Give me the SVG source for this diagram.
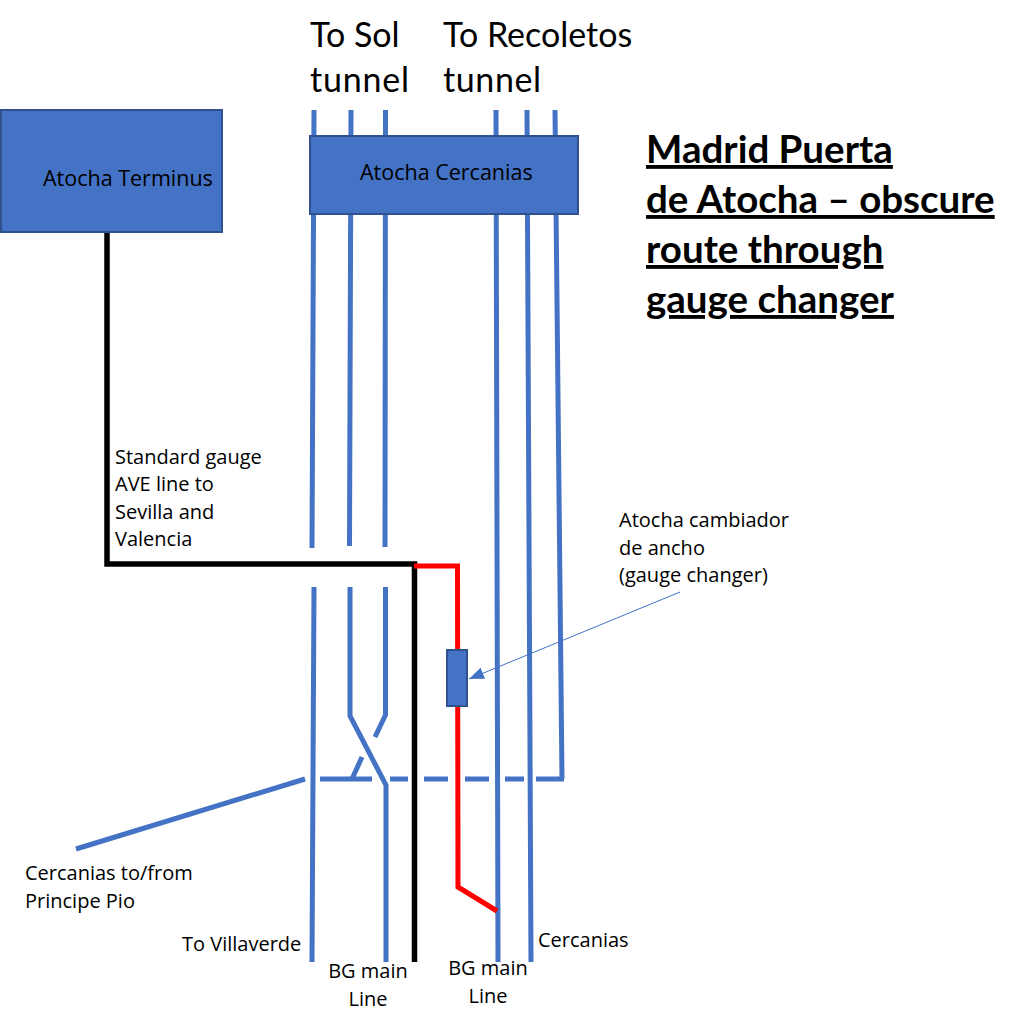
<svg xmlns="http://www.w3.org/2000/svg" width="1021" height="1026" viewBox="0 0 1021 1026">
<style>
.b{fill:none;stroke:#4472c4;stroke-width:5}
.k{fill:none;stroke:#000;stroke-width:5.500}
.r{fill:none;stroke:#f00;stroke-width:5}
.box{fill:#4472c4;stroke:#2f528f;stroke-width:2}
text{fill:#000;font-family:"Open Sans","Noto Sans",sans-serif}
.s{font-size:21.500px}
.m{font-size:20px}
.big{font-family:Lato,"Open Sans",sans-serif;font-size:34px}
.h{font-family:Lato,"Open Sans",sans-serif;font-size:38.500px;font-weight:700;text-decoration:underline}
</style>
<defs><marker id="ah" markerWidth="16" markerHeight="12" refX="15" refY="6" orient="auto" markerUnits="userSpaceOnUse"><path d="M0 0L15 6L0 12z" fill="#4472c4"/></marker></defs>
<rect width="1021" height="1026" fill="#fff"/>
<g id="connectors">
<path class="b" d="M314 110L312 548M351 110L349.500 546M385.500 110L385 547M496 110L498 962M527 110L531 962M555 110L562 779"/>
<path class="b" d="M314 587L312 962M350 587V716L386 785V962M385.500 587V715L375 737M362 757L352 779M305 779L76 849"/>
<path class="b" d="M320 779H372M390 779H408M424 779H448M465 779H489M505 779H524M536 779H564"/>
<path class="k" d="M107 232V564H414.500V962"/>
<path class="r" d="M414 566H457.500L458 887L497 911"/>
<path d="M680 592L469 679" fill="none" stroke="#4472c4" stroke-width="1" marker-end="url(#ah)"/>
</g>
<g id="atocha-terminus"><rect class="box" x="1" y="110" width="221" height="122"/><text class="s" x="43" y="186">Atocha Terminus</text></g>
<g id="atocha-cercanias"><rect class="box" x="310" y="136" width="268" height="78"/><text class="s" x="360" y="180">Atocha Cercanias</text></g>
<g id="gauge-changer"><rect class="box" x="447" y="650" width="20" height="56"/></g>
<g id="labels">
<text class="big"><tspan x="310" y="47">To Sol</tspan><tspan x="310" y="92" textLength="99">tunnel</tspan></text>
<text class="big"><tspan x="443" y="47">To Recoletos</tspan><tspan x="443" y="92" textLength="98">tunnel</tspan></text>
<text class="h"><tspan x="646" y="163">Madrid Puerta</tspan><tspan x="646" y="213">de Atocha – obscure</tspan><tspan x="646" y="263">route through</tspan><tspan x="646" y="313">gauge changer</tspan></text>
<text class="m"><tspan x="115" y="464">Standard gauge</tspan><tspan x="115" y="491">AVE line to</tspan><tspan x="115" y="519">Sevilla and</tspan><tspan x="115" y="546">Valencia</tspan></text>
<text class="m"><tspan x="619" y="527">Atocha cambiador</tspan><tspan x="619" y="555">de ancho</tspan><tspan x="619" y="582">(gauge changer)</tspan></text>
<text class="m"><tspan x="25" y="880">Cercanias to/from</tspan><tspan x="25" y="908">Principe Pio</tspan></text>
<text class="m" x="182" y="951">To Villaverde</text>
<text class="m" text-anchor="middle"><tspan x="368" y="978">BG main</tspan><tspan x="368" y="1006">Line</tspan></text>
<text class="m" text-anchor="middle"><tspan x="488" y="975">BG main</tspan><tspan x="488" y="1003">Line</tspan></text>
<text class="m" x="538" y="947">Cercanias</text>
</g>
</svg>
